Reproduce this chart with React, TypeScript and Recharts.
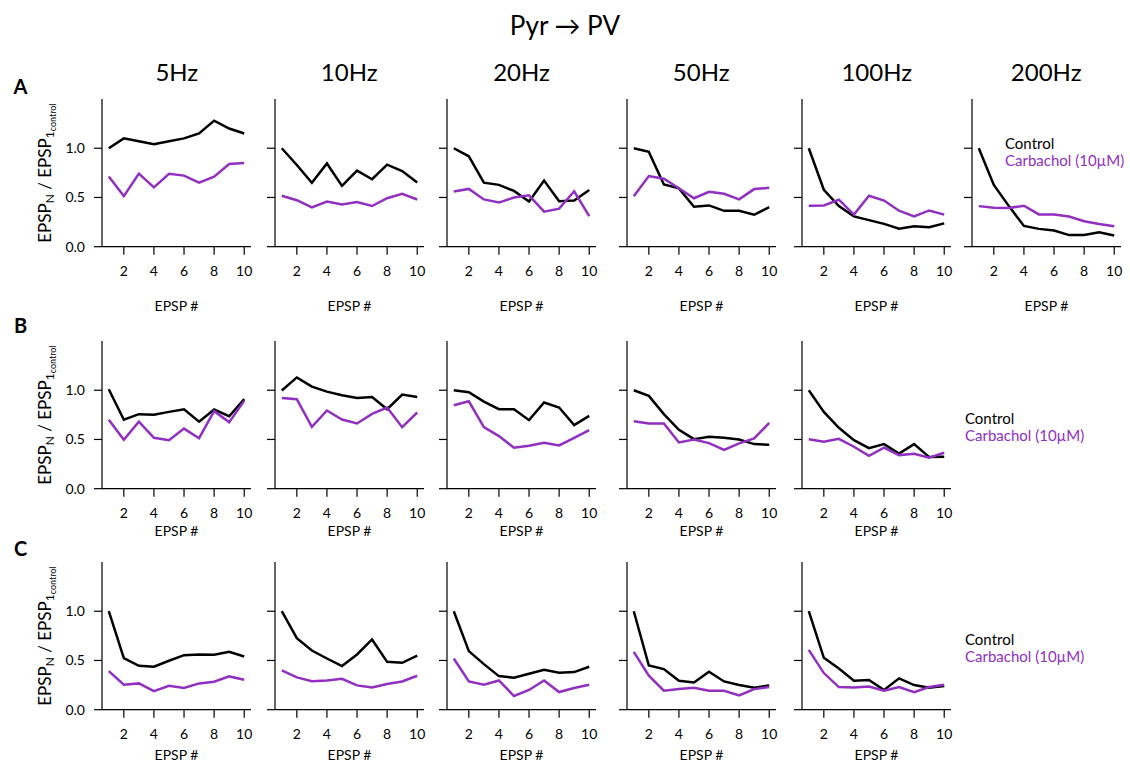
import { Line, LineChart, XAxis, YAxis } from "recharts";

// ── data ─────────────────────────────────────────────────────────────────────
const EPSP_N = [1, 2, 3, 4, 5, 6, 7, 8, 9, 10];
const FREQS = ["5Hz", "10Hz", "20Hz", "50Hz", "100Hz", "200Hz"];
const X_TICKS = [2, 4, 6, 8, 10];
const Y_TICKS = [0, 0.5, 1.0];
const ROW_LETTERS = ["A", "B", "C"];

// row A — one array per frequency, 5Hz … 200Hz
const rowAControl = [
  [1.0, 1.1, 1.07, 1.04, 1.07, 1.1, 1.15, 1.28, 1.2, 1.15],
  [1.0, 0.83, 0.65, 0.845, 0.618, 0.772, 0.685, 0.833, 0.768, 0.652],
  [1.0, 0.918, 0.65, 0.628, 0.566, 0.458, 0.672, 0.462, 0.47, 0.576],
  [1.0, 0.963, 0.632, 0.592, 0.406, 0.419, 0.364, 0.365, 0.324, 0.402],
  [1.0, 0.578, 0.412, 0.308, 0.27, 0.232, 0.182, 0.207, 0.198, 0.237],
  [1.0, 0.628, 0.412, 0.211, 0.181, 0.164, 0.118, 0.118, 0.147, 0.113],
];
const rowACarbachol = [
  [0.712, 0.514, 0.743, 0.603, 0.741, 0.722, 0.651, 0.712, 0.839, 0.85],
  [0.518, 0.472, 0.399, 0.458, 0.428, 0.453, 0.413, 0.492, 0.537, 0.479],
  [0.56, 0.587, 0.48, 0.448, 0.5, 0.522, 0.356, 0.386, 0.563, 0.311],
  [0.512, 0.718, 0.69, 0.593, 0.492, 0.557, 0.537, 0.481, 0.585, 0.598],
  [0.415, 0.419, 0.477, 0.326, 0.518, 0.469, 0.365, 0.307, 0.368, 0.326],
  [0.412, 0.396, 0.393, 0.416, 0.328, 0.328, 0.307, 0.259, 0.231, 0.207],
];

// row B — 5Hz … 100Hz
const rowBControl = [
  [1.01, 0.7, 0.757, 0.75, 0.78, 0.807, 0.68, 0.804, 0.736, 0.909],
  [0.997, 1.13, 1.037, 0.986, 0.95, 0.922, 0.932, 0.807, 0.956, 0.932],
  [1.0, 0.98, 0.885, 0.807, 0.807, 0.696, 0.875, 0.824, 0.645, 0.74],
  [1.0, 0.943, 0.757, 0.598, 0.503, 0.527, 0.517, 0.5, 0.453, 0.446],
  [1.0, 0.78, 0.618, 0.493, 0.412, 0.453, 0.358, 0.453, 0.321, 0.324],
];
const rowBCarbachol = [
  [0.7, 0.497, 0.68, 0.517, 0.493, 0.61, 0.513, 0.787, 0.676, 0.892],
  [0.922, 0.909, 0.628, 0.794, 0.703, 0.662, 0.76, 0.824, 0.625, 0.774],
  [0.848, 0.888, 0.625, 0.534, 0.416, 0.436, 0.466, 0.439, 0.517, 0.595],
  [0.686, 0.662, 0.662, 0.47, 0.5, 0.463, 0.395, 0.46, 0.51, 0.669],
  [0.503, 0.476, 0.507, 0.426, 0.334, 0.416, 0.341, 0.355, 0.314, 0.365],
];

// row C — 5Hz … 100Hz
const rowCControl = [
  [1.0, 0.524, 0.446, 0.436, 0.497, 0.554, 0.561, 0.557, 0.588, 0.54],
  [1.0, 0.726, 0.601, 0.52, 0.443, 0.561, 0.713, 0.486, 0.476, 0.55],
  [1.0, 0.595, 0.463, 0.341, 0.324, 0.365, 0.405, 0.375, 0.382, 0.436],
  [1.0, 0.449, 0.412, 0.294, 0.277, 0.385, 0.287, 0.25, 0.223, 0.247],
  [1.0, 0.527, 0.419, 0.294, 0.301, 0.2, 0.318, 0.25, 0.223, 0.24],
];
const rowCCarbachol = [
  [0.392, 0.253, 0.267, 0.189, 0.243, 0.22, 0.267, 0.284, 0.338, 0.304],
  [0.399, 0.328, 0.29, 0.297, 0.314, 0.247, 0.226, 0.26, 0.287, 0.345],
  [0.52, 0.287, 0.253, 0.297, 0.139, 0.2, 0.297, 0.179, 0.22, 0.253],
  [0.588, 0.345, 0.193, 0.209, 0.223, 0.193, 0.193, 0.145, 0.209, 0.23],
  [0.608, 0.372, 0.23, 0.226, 0.236, 0.193, 0.23, 0.179, 0.23, 0.253],
];

const CONTROL_ROWS = [rowAControl, rowBControl, rowCControl];
const CARBACHOL_ROWS = [rowACarbachol, rowBCarbachol, rowCCarbachol];

// ── layout ───────────────────────────────────────────────────────────────────
const W = 1130;
const H = 762;
const FONT = "Lato, 'Open Sans', sans-serif";
const PURPLE = "#9130C0";

const COL_X = [102.3, 274.7, 447, 626.7, 802.3, 971.7]; // y-axis line of each column
const ROW_BOTTOM = [247, 489, 710]; // x-axis line of each row
const XLABEL_DROP = [64, 47, 50]; // axis line → "EPSP #" baseline
const PLOT_W = 149;
const PLOT_H = 147.7;
const PAD_TOP = 4;
const PAD_RIGHT = 6;
const PAD_BOTTOM = 6; // room under the "EPSP #" baseline

function Panel({
  control,
  carbachol,
  col,
  row,
}: {
  control: number[];
  carbachol: number[];
  col: number;
  row: number;
}) {
  const yw = col === 0 ? 46 : 12;
  const xh = XLABEL_DROP[row];
  const data = EPSP_N.map((n, i) => ({ n, control: control[i], carbachol: carbachol[i] }));
  const top = ROW_BOTTOM[row] - PLOT_H - PAD_TOP;
  return (
    <div style={{ position: "absolute", left: COL_X[col] - yw, top }}>
      <LineChart
        width={yw + PLOT_W + PAD_RIGHT}
        height={PAD_TOP + PLOT_H + xh + PAD_BOTTOM}
        data={data}
        margin={{ top: PAD_TOP, right: PAD_RIGHT, bottom: PAD_BOTTOM, left: 0 }}
      >
        <XAxis
          type="number"
          dataKey="n"
          domain={[0.55, 10.45]}
          ticks={X_TICKS}
          allowDataOverflow
          height={xh}
          tickSize={8}
          tickMargin={11}
          axisLine={{ stroke: "#000", strokeWidth: 1.2 }}
          tickLine={{ stroke: "#000", strokeWidth: 1.2 }}
          tick={{ fill: "#000", fontSize: 14 }}
          label={{ value: "EPSP #", position: "insideBottom", offset: 0, fill: "#000", fontSize: 14 }}
        />
        <YAxis
          type="number"
          domain={[0, 1.5]}
          ticks={Y_TICKS}
          allowDataOverflow
          width={yw}
          tickSize={8}
          tickMargin={9}
          axisLine={{ stroke: "#000", strokeWidth: 1.2 }}
          tickLine={{ stroke: "#000", strokeWidth: 1.2 }}
          tick={{ fill: "#000", fontSize: 14 }}
          tickFormatter={(v) => (col === 0 ? Number(v).toFixed(1) : "")}
        />
        <Line
          type="linear"
          dataKey="control"
          stroke="#000"
          strokeWidth={2.5}
          dot={false}
          isAnimationActive={false}
        />
        <Line
          type="linear"
          dataKey="carbachol"
          stroke={PURPLE}
          strokeWidth={2.5}
          dot={false}
          isAnimationActive={false}
        />
      </LineChart>
    </div>
  );
}

// legend rows: [x, "Control" baseline, "Carbachol" baseline]
const LEGENDS = [
  [1005, 149, 166.3],
  [965, 424, 440.7],
  [965, 645, 661.7],
];

function YLabel({ cy }: { cy: number }) {
  return (
    <text transform={`translate(51,${cy}) rotate(-90)`} textAnchor="middle" fontSize={17} fill="#000">
      EPSP
      <tspan fontSize={12} dy={3}>N</tspan>
      <tspan dy={-3}> / EPSP</tspan>
      <tspan fontSize={12} dy={3}>1</tspan>
      <tspan fontSize={9} dy={2}>control</tspan>
    </text>
  );
}

export default function App() {
  return (
    <div
      style={{
        position: "absolute",
        left: 0,
        top: 0,
        width: W,
        height: H,
        background: "#fff",
        fontFamily: FONT,
        overflow: "hidden",
      }}
    >
      {CONTROL_ROWS.map((rows, r) =>
        rows.map((ctrl, c) => (
          <Panel key={`${r}-${c}`} control={ctrl} carbachol={CARBACHOL_ROWS[r][c]} col={c} row={r} />
        )),
      )}

      <svg
        width={W}
        height={H}
        style={{ position: "absolute", left: 0, top: 0, pointerEvents: "none", fontFamily: FONT }}
      >
        <text x={565} y={35} textAnchor="middle" fontSize={26} fill="#000">
          Pyr → PV
        </text>
        {FREQS.map((f, i) => (
          <text key={f} x={COL_X[i] + PLOT_W / 2} y={81} textAnchor="middle" fontSize={24} fill="#000">
            {f}
          </text>
        ))}
        {ROW_LETTERS.map((l, r) => (
          <text
            key={l}
            x={20.5}
            y={[94.3, 333.3, 556][r]}
            textAnchor="middle"
            fontSize={20}
            fontWeight="bold"
            fill="#000"
          >
            {l}
          </text>
        ))}
        {ROW_BOTTOM.map((b) => (
          <YLabel key={b} cy={b - PLOT_H / 2} />
        ))}
        {LEGENDS.map(([x, y1, y2], i) => (
          <g key={i} fontSize={15}>
            <text x={x} y={y1} fill="#000">
              Control
            </text>
            <text x={x} y={y2} fill={PURPLE}>
              Carbachol (10µM)
            </text>
          </g>
        ))}
      </svg>
    </div>
  );
}
